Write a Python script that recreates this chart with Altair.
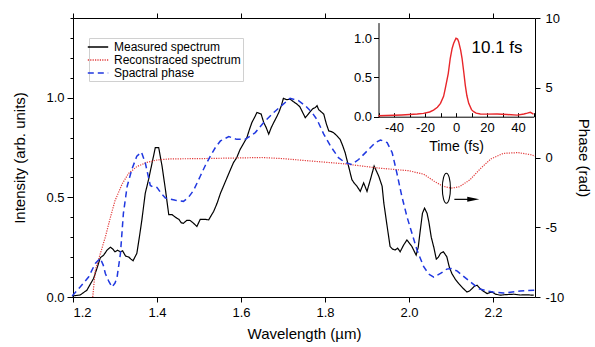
import altair as alt
import pandas as pd

# ---------------- data ----------------
wl_meas = [1.198, 1.217, 1.233, 1.249, 1.258, 1.265, 1.273, 1.281, 1.289, 1.295, 1.300, 1.306, 1.313, 1.318,
           1.325, 1.333, 1.338, 1.343, 1.352, 1.358, 1.364, 1.372, 1.380, 1.388, 1.396, 1.404, 1.412, 1.420,
           1.428, 1.436, 1.444, 1.452, 1.458, 1.463, 1.471, 1.479, 1.487, 1.495, 1.503, 1.513, 1.523, 1.535,
           1.543, 1.551, 1.559, 1.567, 1.575, 1.582, 1.590, 1.598, 1.606, 1.614, 1.620, 1.626, 1.632, 1.638,
           1.648, 1.654, 1.660, 1.666, 1.672, 1.678, 1.684, 1.690, 1.696, 1.701, 1.709, 1.717, 1.725, 1.733,
           1.740, 1.745, 1.753, 1.759, 1.765, 1.771, 1.777, 1.781, 1.785, 1.797, 1.803, 1.809, 1.815, 1.820,
           1.828, 1.836, 1.842, 1.848, 1.856, 1.864, 1.870, 1.876, 1.884, 1.892, 1.900, 1.908, 1.917, 1.928,
           1.936, 1.940, 1.948, 1.955, 1.961, 1.967, 1.973, 1.979, 1.987, 1.995, 2.001, 2.007, 2.017, 2.022,
           2.027, 2.032, 2.037, 2.043, 2.047, 2.053, 2.059, 2.065, 2.070, 2.075, 2.082, 2.090, 2.096, 2.102,
           2.110, 2.118, 2.128, 2.138, 2.144, 2.150, 2.156, 2.162, 2.168, 2.174, 2.180, 2.186, 2.192, 2.198,
           2.205, 2.217, 2.230, 2.249, 2.265, 2.280, 2.297]
int_meas = [0.005, 0.010, 0.034, 0.093, 0.150, 0.197, 0.210, 0.235, 0.250, 0.240, 0.227, 0.235, 0.227, 0.232,
            0.206, 0.200, 0.190, 0.182, 0.219, 0.300, 0.387, 0.520, 0.590, 0.670, 0.750, 0.750, 0.657, 0.540,
            0.413, 0.413, 0.400, 0.390, 0.372, 0.370, 0.385, 0.384, 0.370, 0.354, 0.390, 0.390, 0.387, 0.430,
            0.470, 0.520, 0.560, 0.600, 0.640, 0.674, 0.700, 0.741, 0.770, 0.800, 0.840, 0.876, 0.900, 0.926,
            0.918, 0.876, 0.850, 0.817, 0.850, 0.876, 0.900, 0.926, 0.960, 0.997, 0.990, 0.993, 0.980, 0.968,
            0.955, 0.934, 0.900, 0.915, 0.930, 0.945, 0.951, 0.960, 0.940, 0.918, 0.870, 0.833, 0.830, 0.825,
            0.810, 0.791, 0.760, 0.724, 0.657, 0.589, 0.570, 0.556, 0.530, 0.573, 0.530, 0.589, 0.657, 0.606,
            0.556, 0.472, 0.354, 0.253, 0.240, 0.236, 0.245, 0.227, 0.260, 0.286, 0.270, 0.253, 0.210, 0.250,
            0.337, 0.420, 0.446, 0.420, 0.380, 0.300, 0.250, 0.190, 0.200, 0.219, 0.227, 0.202, 0.150, 0.118,
            0.090, 0.068, 0.045, 0.025, 0.030, 0.042, 0.055, 0.059, 0.045, 0.034, 0.025, 0.017, 0.022, 0.025,
            0.015, 0.009, 0.012, 0.014, 0.010, 0.011, 0.009]

wl_blue = [1.198, 1.217, 1.237, 1.253, 1.265, 1.272, 1.277, 1.285, 1.293, 1.300, 1.305, 1.313, 1.320, 1.329,
           1.340, 1.352, 1.363, 1.372, 1.384, 1.392, 1.400, 1.410, 1.420, 1.444, 1.463, 1.475, 1.487, 1.503,
           1.515, 1.527, 1.539, 1.551, 1.571, 1.590, 1.610, 1.634, 1.654, 1.678, 1.698, 1.717, 1.737, 1.753,
           1.769, 1.781, 1.797, 1.813, 1.832, 1.848, 1.864, 1.880, 1.900, 1.920, 1.932, 1.948, 1.960, 1.971,
           1.983, 1.995, 2.007, 2.019, 2.035, 2.047, 2.059, 2.075, 2.090, 2.100, 2.115, 2.126, 2.146, 2.166,
           2.186, 2.200, 2.225, 2.265, 2.300]
int_blue = [0.005, 0.050, 0.100, 0.168, 0.194, 0.160, 0.118, 0.080, 0.050, 0.070, 0.100, 0.219, 0.420, 0.556,
            0.640, 0.707, 0.727, 0.674, 0.560, 0.550, 0.550, 0.520, 0.497, 0.485, 0.480, 0.500, 0.535, 0.606,
            0.660, 0.707, 0.750, 0.783, 0.805, 0.791, 0.791, 0.825, 0.876, 0.926, 0.963, 0.997, 0.985, 0.960,
            0.926, 0.890, 0.817, 0.758, 0.699, 0.674, 0.665, 0.690, 0.732, 0.775, 0.788, 0.775, 0.724, 0.623,
            0.505, 0.404, 0.320, 0.236, 0.152, 0.115, 0.100, 0.118, 0.140, 0.143, 0.130, 0.110, 0.076, 0.042,
            0.030, 0.025, 0.020, 0.030, 0.034]

wl_red = [1.247, 1.253, 1.265, 1.277, 1.289, 1.300, 1.317, 1.332, 1.352, 1.376, 1.400, 1.430, 1.500, 1.600,
          1.650, 1.700, 1.765, 1.845, 1.925, 2.000, 2.035, 2.060, 2.080, 2.100, 2.120, 2.145, 2.170, 2.195,
          2.225, 2.260, 2.290, 2.300]
ph_red = [-10.0, -8.1, -6.9, -5.7, -4.3, -3.1, -1.9, -1.15, -0.65, -0.35, -0.18, -0.10, -0.08, -0.03,
          0.0, -0.08, -0.25, -0.45, -0.75, -0.95, -1.2, -1.7, -2.05, -2.2, -2.1, -1.6, -0.8, -0.1,
          0.3, 0.35, 0.2, 0.1]

t_fs = [-50, -45, -40, -35, -30, -25, -21, -17, -14.5, -12, -10, -8, -6.9, -5, -3.7, -2.5, -1.5, 0, 1,
        1.7, 3, 3.9, 5, 6, 7, 8.2, 10, 11.4, 13, 15.7, 20, 26.5, 33, 39.5, 43.8, 46, 48, 50]
pulse = [0.013, 0.015, 0.018, 0.022, 0.028, 0.035, 0.043, 0.060, 0.085, 0.120, 0.170, 0.260, 0.360, 0.550,
         0.745, 0.870, 0.936, 1.000, 0.990, 0.957, 0.850, 0.745, 0.570, 0.400, 0.270, 0.170, 0.090, 0.064,
         0.045, 0.034, 0.033, 0.034, 0.028, 0.020, 0.034, 0.045, 0.056, 0.034]

series = ["Measured spectrum", "Reconstraced spectrum", "Spactral phase"]
series_colors = ["#000000", "#e23a3a", "#2038e0"]
series_dash = [[1, 0], [1.2, 1.2], [6, 4]]

pulse_label = ["10.1 fs"]
pulse_label_t = [26.5]
pulse_label_v = [0.88]

ellipse_wl = [2.089]
ellipse_ph = [-2.2]
arrow_wl = [2.108]
arrow_wl2 = [2.146]
arrow_ph = [-3.0]
head_wl = [2.153]

# ---------------- layout ----------------
W, H = 462, 279
FONT = "Liberation Sans"
# inset placement in plot-area pixels
INS_X = [305.5, 460.5]
INS_Y = [98.7, 4.6]

df_meas = pd.DataFrame({"wl": wl_meas, "v": int_meas, "s": series[0]})
df_blue = pd.DataFrame({"wl": wl_blue, "v": int_blue, "s": series[2]})
df_red = pd.DataFrame({"wl": wl_red, "v": ph_red, "s": series[1]})
df_pulse = pd.DataFrame({"t": t_fs, "v": pulse})
df_lbl = pd.DataFrame({"t": pulse_label_t, "v": pulse_label_v, "txt": pulse_label})
df_ell = pd.DataFrame({"wl": ellipse_wl, "v": ellipse_ph})
df_arr = pd.DataFrame({"wl": arrow_wl, "wl2": arrow_wl2, "v": arrow_ph})
df_head = pd.DataFrame({"wl": head_wl, "v": arrow_ph})

xscale = alt.Scale(domain=[1.2, 2.3], nice=False, zero=False)
iscale = alt.Scale(domain=[0, 1.4], nice=False, zero=False)
pscale = alt.Scale(domain=[-10, 10], nice=False, zero=False)
tscale = alt.Scale(domain=[-50, 50], nice=False, zero=False, range=INS_X)
vscale = alt.Scale(domain=[0, 1.2], nice=False, zero=False, range=INS_Y)

xticks = [1.2, 1.4, 1.6, 1.8, 2.0, 2.2]
common_axis = dict(domainColor="#000000", tickColor="#000000", labelColor="#000000",
                   titleColor="#000000", labelFont=FONT, titleFont=FONT, grid=False,
                   titleFontWeight="normal", domainWidth=1, tickWidth=1)

color_enc = alt.Color("s:N", scale=alt.Scale(domain=series, range=series_colors), legend=alt.Legend(title=None))
dash_enc = alt.StrokeDash("s:N", scale=alt.Scale(domain=series, range=series_dash), legend=alt.Legend(title=None))

meas = alt.Chart(df_meas).mark_line(strokeWidth=1.2).encode(
    x=alt.X("wl:Q", scale=xscale, axis=alt.Axis(orient="bottom", values=xticks, format=".1f",
            title="Wavelength (µm)", labelFontSize=13, titleFontSize=15, tickSize=5,
            labelPadding=4, titlePadding=7, **common_axis)),
    y=alt.Y("v:Q", scale=iscale, axis=alt.Axis(orient="left", values=[0, 0.5, 1.0], format=".1f",
            title="Intensity (arb. units)", labelFontSize=13, titleFontSize=15, tickSize=6,
            labelPadding=3, titlePadding=18, **common_axis)),
    color=color_enc, strokeDash=dash_enc)

blue = alt.Chart(df_blue).mark_line(strokeWidth=1.5).encode(
    x=alt.X("wl:Q", scale=xscale, axis=alt.Axis(orient="top", values=xticks, labels=False, title=None,
            tickSize=5, **common_axis)),
    y=alt.Y("v:Q", scale=iscale, axis=alt.Axis(orient="left", values=[round(i * 0.1, 1) for i in range(15)],
            labels=False, title=None, tickSize=3, domain=False, **common_axis)),
    color=color_enc, strokeDash=dash_enc)

red = alt.Chart(df_red).mark_line(strokeWidth=1.2).encode(
    x=alt.X("wl:Q", scale=xscale, axis=None),
    y=alt.Y("v:Q", scale=pscale, axis=alt.Axis(orient="right", values=[-10, -5, 0, 5, 10],
            labelExpr="'' + datum.value", title="Phase (rad)", labelFontSize=13, titleFontSize=15,
            tickSize=5, labelPadding=5, titlePadding=12, **common_axis)),
    color=color_enc, strokeDash=dash_enc)

inset = alt.Chart(df_pulse).mark_line(color="#e8262a", strokeWidth=1.4).encode(
    x=alt.X("t:Q", scale=tscale, axis=alt.Axis(orient="bottom", offset=-(H - INS_Y[0]),
            values=[-40, -20, 0, 20, 40], labelExpr="'' + datum.value", title="Time (fs)",
            labelFontSize=13, titleFontSize=14, tickSize=0, labelPadding=5, titlePadding=5,
            **common_axis)),
    y=alt.Y("v:Q", scale=vscale, axis=alt.Axis(orient="left", offset=-INS_X[0],
            values=[0, 0.5, 1.0], format=".1f", title=None, labelFontSize=13, tickSize=5,
            labelPadding=2, **common_axis)))

lbl = alt.Chart(df_lbl).mark_text(fontSize=17, font=FONT, color="#000000", align="center",
                                  baseline="middle").encode(
    x=alt.X("t:Q", scale=tscale, axis=alt.Axis(orient="top", offset=-INS_Y[0],
            values=list(range(-50, 51, 10)), labels=False, title=None, domain=False, tickSize=4,
            **common_axis)),
    y=alt.Y("v:Q", scale=vscale, axis=None),
    text="txt:N")

ellipse = alt.Chart(df_ell).mark_point(
    shape="M0,-1A0.27,1,0,1,1,0,1A0.27,1,0,1,1,0,-1Z", size=900, filled=False,
    color="#000000", strokeWidth=1.1, opacity=1).encode(
    x=alt.X("wl:Q", scale=xscale, axis=None),
    y=alt.Y("v:Q", scale=pscale, axis=None))

arrow = alt.Chart(df_arr).mark_rule(color="#000000", strokeWidth=1.2).encode(
    x=alt.X("wl:Q", scale=xscale, axis=None),
    x2="wl2:Q",
    y=alt.Y("v:Q", scale=pscale, axis=None))

head = alt.Chart(df_head).mark_point(
    shape="M-1,-0.42L1,0L-1,0.42Z", size=144, filled=True, color="#000000", opacity=1).encode(
    x=alt.X("wl:Q", scale=xscale, axis=None),
    y=alt.Y("v:Q", scale=pscale, axis=None))

chart = alt.layer(meas, red, blue, inset, lbl, ellipse, arrow, head).resolve_scale(
    x="independent", y="independent"
).properties(
    width=W, height=H,
    autosize=alt.AutoSizeParams(type="none"),
    padding={"left": 73, "top": 18, "right": 60, "bottom": 50},
    background="#ffffff",
).configure_view(
    strokeWidth=0
).configure_legend(
    orient="none", legendX=16, legendY=20, strokeColor="#d0d0d0", padding=2,
    labelFont=FONT, labelFontSize=12, labelColor="#000000", labelOffset=9,
    symbolType="M-1.7,0L1.7,0", symbolSize=144, symbolStrokeWidth=1.3, rowPadding=0,
    cornerRadius=0, fillColor="#ffffff"
)

chart.save("out.html", embed_options={"renderer": "svg", "actions": False})
